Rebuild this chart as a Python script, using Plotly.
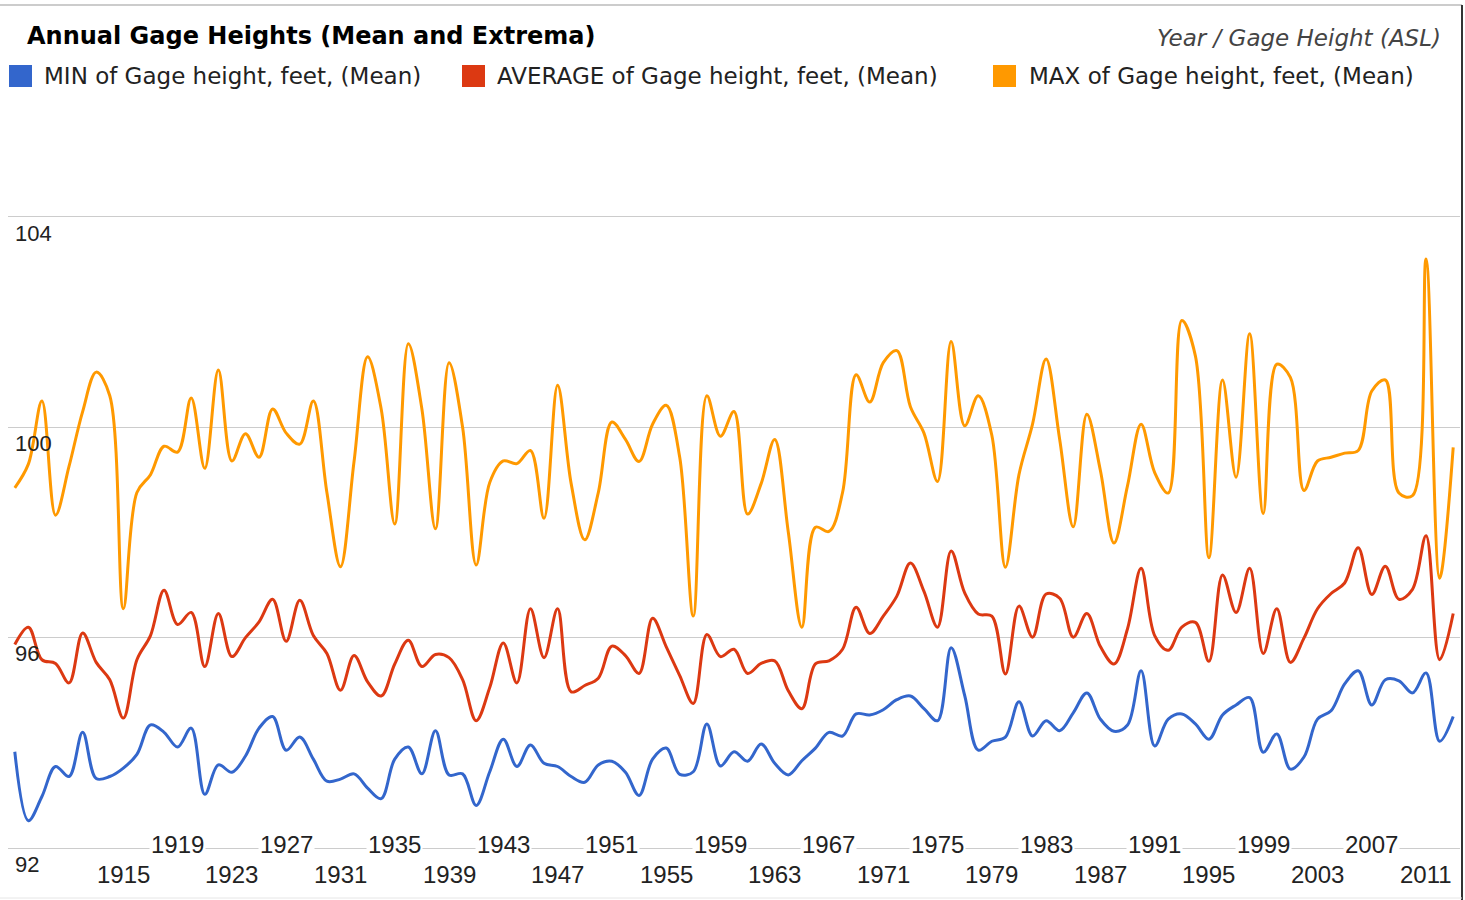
import plotly.graph_objects as go

# ---------------- data ----------------
years = [1907, 1908, 1909, 1910, 1911, 1912, 1913, 1914, 1915, 1916,
         1917, 1918, 1919, 1920, 1921, 1922, 1923, 1924, 1925, 1926,
         1927, 1928, 1929, 1930, 1931, 1932, 1933, 1934, 1935, 1936,
         1937, 1938, 1939, 1940, 1941, 1942, 1943, 1944, 1945, 1946,
         1947, 1948, 1949, 1950, 1951, 1952, 1953, 1954, 1955, 1956,
         1957, 1958, 1959, 1960, 1961, 1962, 1963, 1964, 1965, 1966,
         1967, 1968, 1969, 1970, 1971, 1972, 1973, 1974, 1975, 1976,
         1977, 1978, 1979, 1980, 1981, 1982, 1983, 1984, 1985, 1986,
         1987, 1988, 1989, 1990, 1991, 1992, 1993, 1994, 1995, 1996,
         1997, 1998, 1999, 2000, 2001, 2002, 2003, 2004, 2005, 2006,
         2007, 2008, 2009, 2010, 2011, 2012, 2013]

min_vals = [93.83, 92.52, 92.98, 93.55, 93.36, 94.20, 93.32, 93.36, 93.52, 93.78,
            94.34, 94.20, 93.92, 94.28, 93.02, 93.58, 93.44, 93.75, 94.28, 94.50,
            93.86, 94.11, 93.69, 93.27, 93.31, 93.41, 93.14, 92.94, 93.69, 93.92,
            93.41, 94.23, 93.39, 93.41, 92.81, 93.45, 94.07, 93.55, 93.96, 93.61,
            93.55, 93.36, 93.25, 93.58, 93.65, 93.44, 93.00, 93.69, 93.90, 93.40,
            93.45, 94.36, 93.56, 93.83, 93.65, 93.98, 93.61, 93.39, 93.66, 93.90,
            94.20, 94.13, 94.55, 94.53, 94.63, 94.82, 94.89, 94.65, 94.42, 95.81,
            94.90, 93.86, 94.03, 94.11, 94.78, 94.13, 94.42, 94.23, 94.57, 94.95,
            94.45, 94.22, 94.34, 95.37, 93.94, 94.45, 94.55, 94.36, 94.07, 94.53,
            94.72, 94.86, 93.82, 94.17, 93.50, 93.73, 94.45, 94.61, 95.12, 95.37,
            94.72, 95.20, 95.18, 94.95, 95.33, 94.03, 94.50]

avg_vals = [95.87, 96.20, 95.58, 95.51, 95.14, 96.09, 95.53, 95.20, 94.47, 95.58,
            96.04, 96.90, 96.25, 96.48, 95.45, 96.46, 95.64, 96.00, 96.30, 96.73,
            95.93, 96.71, 96.04, 95.70, 95.00, 95.66, 95.16, 94.89, 95.50, 95.95,
            95.45, 95.68, 95.62, 95.20, 94.42, 95.05, 95.90, 95.14, 96.55, 95.62,
            96.55, 94.97, 95.09, 95.23, 95.84, 95.66, 95.32, 96.37, 95.83, 95.28,
            94.75, 96.06, 95.64, 95.78, 95.32, 95.51, 95.56, 94.99, 94.65, 95.50,
            95.56, 95.78, 96.58, 96.08, 96.41, 96.79, 97.42, 96.88, 96.20, 97.65,
            96.85, 96.45, 96.41, 95.31, 96.60, 96.01, 96.83, 96.75, 96.01, 96.46,
            95.83, 95.50, 96.17, 97.32, 96.04, 95.76, 96.20, 96.29, 95.55, 97.19,
            96.48, 97.32, 95.70, 96.55, 95.53, 95.99, 96.55, 96.84, 97.04, 97.71,
            96.82, 97.36, 96.73, 96.92, 97.94, 95.58, 96.46]

max_vals = [98.85, 99.30, 100.50, 98.33, 99.26, 100.30, 101.05, 100.60, 96.55, 98.76,
            99.10, 99.64, 99.53, 100.56, 99.22, 101.09, 99.36, 99.88, 99.43, 100.35,
            99.89, 99.68, 100.50, 98.76, 97.35, 99.35, 101.34, 100.35, 98.16, 101.59,
            100.35, 98.07, 101.23, 100.00, 97.38, 98.95, 99.36, 99.31, 99.56, 98.27,
            100.80, 98.93, 97.86, 98.76, 100.10, 99.77, 99.35, 100.06, 100.42, 99.43,
            96.41, 100.60, 99.83, 100.30, 98.35, 98.93, 99.77, 98.01, 96.20, 98.10,
            98.02, 98.76, 101.00, 100.48, 101.23, 101.46, 100.39, 99.89, 98.97, 101.63,
            100.03, 100.60, 99.85, 97.34, 99.10, 100.06, 101.30, 99.77, 98.11, 100.25,
            99.18, 97.80, 98.89, 100.06, 99.14, 98.75, 102.03, 101.36, 97.52, 100.90,
            99.05, 101.78, 98.36, 101.20, 100.95, 98.80, 99.36, 99.43, 99.51, 99.56,
            100.69, 100.90, 98.75, 98.70, 103.20, 97.13, 99.62]

series_names = ["MIN of Gage height, feet, (Mean)",
                "AVERAGE of Gage height, feet, (Mean)",
                "MAX of Gage height, feet, (Mean)"]
series_colors = ["#3366cc", "#dc3912", "#ff9900"]

y_ticks = [92, 96, 100, 104]
x_ticks_lower = [1915, 1923, 1931, 1939, 1947, 1955, 1963, 1971, 1979, 1987, 1995, 2003, 2011]
x_ticks_upper = [1919, 1927, 1935, 1943, 1951, 1959, 1967, 1975, 1983, 1991, 1999, 2007]

title_text = "Annual Gage Heights (Mean and Extrema)"
axis_caption = "Year / Gage Height (ASL)"

# ---------------- layout geometry (pixels) ----------------
W, H = 1465, 900
PL, PR, PT, PB = 8, 1460, 217, 848  # plot area edges


def px(xp):
    return (xp - PL) / (PR - PL)


def py(yp):
    return (PB - yp) / (PB - PT)


fig = go.Figure()
for vals, name, col in zip([min_vals, avg_vals, max_vals], series_names, series_colors):
    fig.add_trace(go.Scatter(
        x=years, y=vals, name=name, mode="lines",
        line=dict(color=col, width=3, shape="spline", smoothing=1.0),
        showlegend=False, hoverinfo="x+y+name"))

annotations = []
shapes = []

# title and caption
annotations.append(dict(text="<b>" + title_text + "</b>", xref="paper", yref="paper",
                        x=px(26), y=py(36), xanchor="left", yanchor="middle",
                        showarrow=False, borderpad=0,
                        font=dict(family="DejaVu Sans", size=24, color="#000000")))
annotations.append(dict(text="<i>" + axis_caption + "</i>", xref="paper", yref="paper",
                        x=px(1442), y=py(38), xanchor="right", yanchor="middle",
                        showarrow=False, borderpad=0,
                        font=dict(family="DejaVu Sans", size=23, color="#444444")))

# manual legend (square swatches)
legend_sq_x = [9, 462, 993]
legend_txt_x = [43, 496, 1028]
for name, col, sx, tx in zip(series_names, series_colors, legend_sq_x, legend_txt_x):
    shapes.append(dict(type="rect", xref="paper", yref="paper",
                       x0=px(sx), x1=px(sx + 23), y0=py(87), y1=py(65),
                       fillcolor=col, line=dict(width=0)))
    annotations.append(dict(text=name, xref="paper", yref="paper",
                            x=px(tx), y=py(76), xanchor="left", yanchor="middle",
                            showarrow=False, borderpad=0,
                            font=dict(family="DejaVu Sans", size=23, color="#222222")))

# y tick labels (inside, below gridline)
for v in y_ticks:
    annotations.append(dict(text=str(v), xref="paper", yref="y", x=0, y=v,
                            xanchor="left", yanchor="middle", xshift=6, yshift=-16,
                            showarrow=False, borderpad=0,
                            font=dict(family="Liberation Sans", size=22, color="#222222")))

# x tick labels, two staggered rows
for yr in x_ticks_lower:
    annotations.append(dict(text=str(yr), xref="x", yref="paper", x=yr, y=py(875),
                            xanchor="center", yanchor="middle",
                            showarrow=False, borderpad=0,
                            font=dict(family="Liberation Sans", size=24, color="#222222")))
for yr in x_ticks_upper:
    annotations.append(dict(text=str(yr), xref="x", yref="paper", x=yr, y=py(844),
                            xanchor="center", yanchor="middle",
                            showarrow=False, borderpad=1, bgcolor="#ffffff",
                            font=dict(family="Liberation Sans", size=24, color="#222222")))

# frame lines of the screenshot
shapes.append(dict(type="line", xref="paper", yref="paper", x0=px(0), x1=px(1462),
                   y0=py(5), y1=py(5), line=dict(color="#cccccc", width=2)))
shapes.append(dict(type="line", xref="paper", yref="paper", x0=px(1462), x1=px(1462),
                   y0=py(5), y1=py(900), line=dict(color="#333333", width=2)))
shapes.append(dict(type="line", xref="paper", yref="paper", x0=px(0), x1=px(1462),
                   y0=py(898), y1=py(898), line=dict(color="#e6e6e6", width=1)))

fig.update_layout(
    width=W, height=H,
    margin=dict(l=PL, r=W - PR, t=PT, b=H - PB, pad=0),
    paper_bgcolor="#ffffff", plot_bgcolor="#ffffff",
    showlegend=False,
    annotations=annotations, shapes=shapes,
    xaxis=dict(range=[1906.5, 2013.5], showgrid=False, zeroline=False,
               showticklabels=False, ticks="",
               showline=True, mirror=True, linecolor="#cccccc", linewidth=1),
    yaxis=dict(range=[92, 104], tickvals=y_ticks, showgrid=True, gridcolor="#cccccc",
               gridwidth=1, zeroline=False, showticklabels=False, ticks="",
               showline=False),
)

fig.write_html("out.html", config={"displayModeBar": False},
               post_script="document.body.style.margin='0';document.body.style.overflow='hidden';")
